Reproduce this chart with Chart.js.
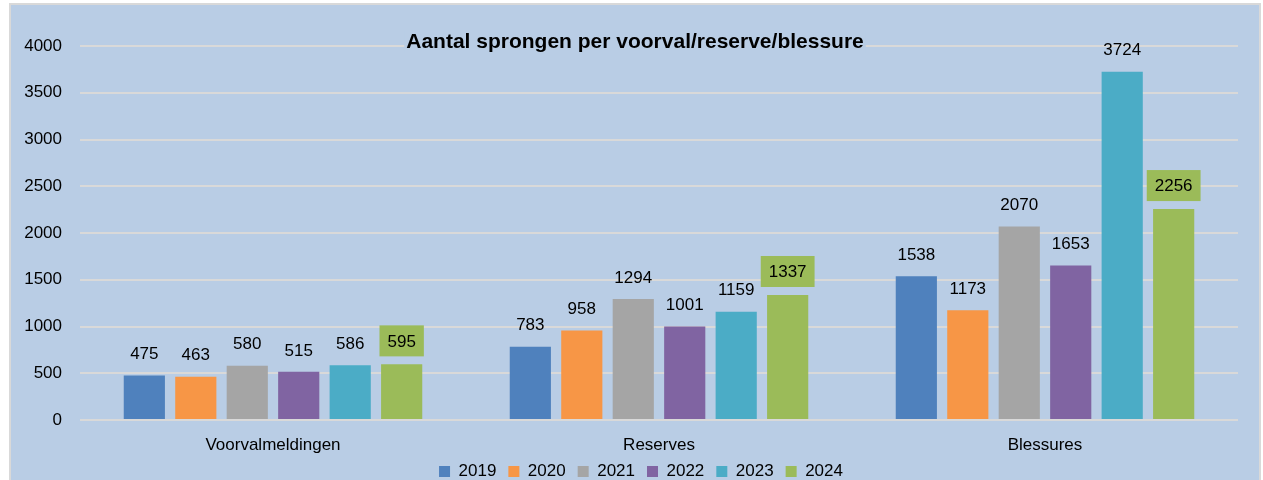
<!DOCTYPE html>
<html><head><meta charset="utf-8">
<script src="https://cdn.jsdelivr.net/npm/chart.js@4"></script>
<style>html,body{margin:0;padding:0;background:#fff}canvas{display:block}</style>
</head><body>
<canvas id="c" width="1263" height="480"></canvas>
<script>
const categories = ['Voorvalmeldingen', 'Reserves', 'Blessures'];
const years = ['2019', '2020', '2021', '2022', '2023', '2024'];
const v2019 = [475, 783, 1538];
const v2020 = [463, 958, 1173];
const v2021 = [580, 1294, 2070];
const v2022 = [515, 1001, 1653];
const v2023 = [586, 1159, 3724];
const v2024 = [595, 1337, 2256];
const seriesValues = [v2019, v2020, v2021, v2022, v2023, v2024];
const seriesColors = ['#4F81BD', '#F79646', '#A5A5A5', '#8064A2', '#4BACC6', '#9BBB59'];
const boxedYears = ['2024'];
const titleText = 'Aantal sprongen per voorval/reserve/blessure';
const yMin = 0, yMax = 4000, yStep = 500;

const FONT = "'Liberation Sans', Arial, sans-serif";
Chart.defaults.font.family = FONT;
Chart.defaults.font.size = 17;
Chart.defaults.color = '#000';

const bgPlugin = {
  id: 'bg',
  beforeDraw(chart) {
    const ctx = chart.ctx;
    ctx.save();
    ctx.fillStyle = '#fff';
    ctx.fillRect(0, 0, chart.width, chart.height);
    ctx.fillStyle = '#B9CDE5';
    ctx.fillRect(10, 4, 1250, 480);
    ctx.strokeStyle = '#D9D9D9';
    ctx.lineWidth = 2;
    ctx.strokeRect(10, 4, 1250, 480);
    ctx.restore();
  }
};

// fine-tune placement of legend and x-label clip region after layout
const layoutTweak = {
  id: 'layoutTweak',
  afterLayout(chart) {
    const lg = chart.legend;
    if (lg) { lg.left += 22; lg.right += 22; }
    const xs = chart.scales.x;
    if (xs) { xs.bottom = xs.top + 40; }
  }
};

const labelPlugin = {
  id: 'valueLabels',
  afterDatasetsDraw(chart) {
    const ctx = chart.ctx;
    ctx.save();
    ctx.font = '17px ' + FONT;
    ctx.textAlign = 'center';
    ctx.textBaseline = 'middle';
    chart.data.datasets.forEach((ds, di) => {
      const meta = chart.getDatasetMeta(di);
      meta.data.forEach((el, i) => {
        const txt = String(ds.data[i]);
        if (boxedYears.includes(ds.label)) {
          const w = ctx.measureText(txt).width + 16;
          const h = 31;
          const bottom = el.y - 8;
          ctx.fillStyle = ds.backgroundColor;
          ctx.fillRect(el.x - w / 2, bottom - h, w, h);
          ctx.fillStyle = '#000';
          ctx.fillText(txt, el.x, bottom - h / 2 + 1);
        } else {
          ctx.fillStyle = '#000';
          ctx.fillText(txt, el.x, el.y - 21);
        }
      });
    });
    ctx.restore();
  }
};

const titlePlugin = {
  id: 'customTitle',
  afterDraw(chart) {
    const ctx = chart.ctx;
    ctx.save();
    ctx.font = 'bold 21px ' + FONT;
    const w = ctx.measureText(titleText).width;
    const cx = 635;
    ctx.fillStyle = '#B9CDE5';
    ctx.fillRect(cx - w / 2 - 2, 31, w + 4, 22);
    ctx.fillStyle = '#000';
    ctx.textAlign = 'center';
    ctx.textBaseline = 'alphabetic';
    ctx.fillText(titleText, cx, 48);
    ctx.restore();
  }
};

new Chart(document.getElementById('c'), {
  type: 'bar',
  data: {
    labels: categories,
    datasets: years.map((y, i) => ({
      label: y,
      data: seriesValues[i],
      backgroundColor: seriesColors[i],
      borderWidth: 0,
      barPercentage: 0.8,
      categoryPercentage: 0.8
    }))
  },
  options: {
    responsive: false,
    animation: false,
    layout: { padding: { left: 0, right: 25, top: 46, bottom: -10 } },
    plugins: {
      title: { display: false },
      tooltip: { enabled: false },
      legend: {
        position: 'bottom',
        labels: { boxWidth: 11, boxHeight: 11, padding: 12, color: '#000', font: { size: 17 } }
      }
    },
    scales: {
      x: {
        grid: { display: false, drawTicks: false },
        border: { display: false },
        ticks: { padding: 15, color: '#000' },
        afterFit(s) { s.height = 31; }
      },
      y: {
        min: yMin, max: yMax,
        ticks: { stepSize: yStep, padding: 18, color: '#000', callback: (v) => String(v) },
        grid: { color: '#D9D9D9', lineWidth: 2, drawTicks: false },
        border: { display: false },
        afterFit(s) { s.width = 80; }
      }
    }
  },
  plugins: [bgPlugin, layoutTweak, labelPlugin, titlePlugin]
});
</script>
</body></html>
